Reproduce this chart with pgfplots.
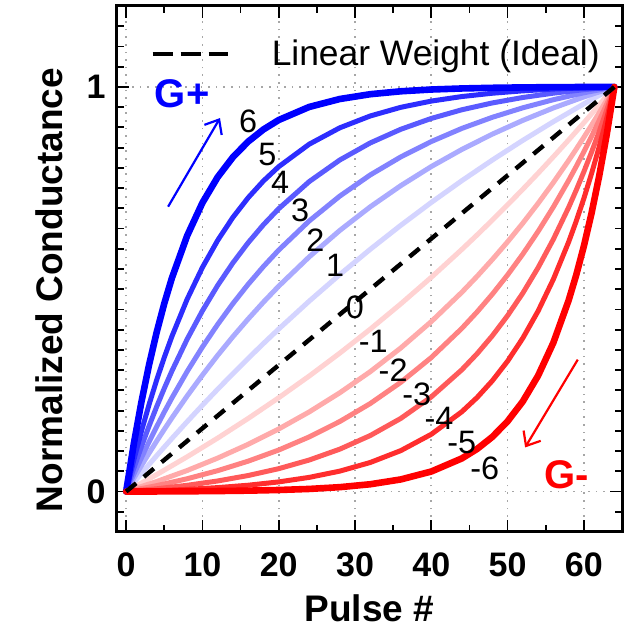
\documentclass[border=0pt]{standalone}
\usepackage{fontspec}
\setmainfont{Liberation Sans}
\usepackage{pgfplots}
\usepackage{pgfplotstable}
\pgfplotsset{compat=1.18}
\usetikzlibrary{arrows.meta}
\definecolor{b6}{RGB}{0,0,255}
\definecolor{b5}{RGB}{45,45,255}
\definecolor{b4}{RGB}{90,90,255}
\definecolor{b3}{RGB}{130,130,255}
\definecolor{b2}{RGB}{170,170,255}
\definecolor{b1}{RGB}{212,212,255}
\definecolor{r6}{RGB}{255,0,0}
\definecolor{r5}{RGB}{255,45,45}
\definecolor{r4}{RGB}{255,90,90}
\definecolor{r3}{RGB}{255,130,130}
\definecolor{r2}{RGB}{255,170,170}
\definecolor{r1}{RGB}{255,210,210}
\newcommand{\clab}{\fontsize{16.2}{18}\selectfont}
\pgfplotstableread{
x p1 p2 p3 p4 p5 p6
0 0 0 0 0 0 0
1 .0226 .0324 .0425 .0570 .0774 .1175
2 .0448 .0640 .0833 .1109 .1488 .2212
3 .0668 .0947 .1226 .1617 .2147 .3128
4 .0886 .1246 .1603 .2097 .2756 .3936
5 .1100 .1536 .1965 .2551 .3317 .4649
6 .1312 .1820 .2313 .2980 .3835 .5278
8 .1728 .2363 .2968 .3766 .4755 .6323
10 .2134 .2878 .3573 .4468 .5540 .7137
12 .2529 .3367 .4131 .5095 .6208 .7772
14 .2915 .3829 .4647 .5653 .6778 .8265
16 .3292 .4266 .5123 .6151 .7263 .8650
18 .3659 .4682 .5562 .6595 .7677 .8949
20 .4017 .5076 .5968 .6991 .8029 .9182
24 .4706 .5800 .6688 .7661 .8585 .9505
28 .5362 .6452 .7301 .8193 .8989 .9701
32 .5987 .7037 .7825 .8616 .9282 .9820
36 .6580 .7560 .8270 .8953 .9496 .9892
40 .7145 .8032 .8650 .9221 .9650 .9936
44 .7682 .8454 .8974 .9435 .9762 .9962
48 .8193 .8833 .9249 .9604 .9844 .9978
52 .8679 .9173 .9484 .9739 .9903 .9988
56 .9141 .9480 .9684 .9846 .9947 .9994
60 .9581 .9753 .9855 .9932 .9978 .9998
64 1 1 1 1 1 1
}\bluetab
\pgfplotstableread{
x n1 n2 n3 n4 n5 n6
0 0 0 0 0 0 0
4 .0419 .0247 .0145 .0068 .0022 .0002
8 .0859 .0520 .0316 .0154 .0053 .0006
12 .1321 .0827 .0516 .0261 .0097 .0012
16 .1807 .1167 .0751 .0396 .0156 .0022
20 .2318 .1546 .1026 .0565 .0238 .0038
24 .2855 .1968 .1350 .0779 .0350 .0064
28 .3420 .2440 .1730 .1047 .0504 .0108
32 .4013 .2963 .2175 .1384 .0718 .0180
36 .4638 .3548 .2699 .1807 .1011 .0299
40 .5294 .4200 .3312 .2339 .1415 .0495
44 .5983 .4924 .4032 .3009 .1971 .0818
46 .6341 .5318 .4438 .3405 .2323 .1051
48 .6708 .5734 .4877 .3849 .2737 .1350
50 .7085 .6171 .5353 .4347 .3222 .1735
52 .7471 .6633 .5869 .4905 .3792 .2228
54 .7866 .7122 .6427 .5532 .4460 .2863
56 .8272 .7637 .7032 .6234 .5245 .3677
58 .8688 .8180 .7687 .7020 .6165 .4722
59 .8900 .8464 .8035 .7449 .6683 .5351
60 .9114 .8754 .8397 .7903 .7244 .6064
61 .9332 .9053 .8774 .8383 .7853 .6872
62 .9552 .9360 .9167 .8891 .8512 .7788
63 .9774 .9676 .9575 .9430 .9226 .8825
64 1 1 1 1 1 1
}\redtab
\begin{document}
\begin{tikzpicture}
\begin{axis}[
  scale only axis, width=252.5pt, height=263pt,
  xmin=-1.2, xmax=65, ymin=-0.1, ymax=1.2,
  xtick={0,10,20,30,40,50,60}, ytick={0,1},
  minor xtick={5,15,25,35,45,55},
  minor ytick={-0.05,0.05,0.1,0.15,0.2,0.25,0.3,0.35,0.4,0.45,0.5,0.55,0.6,0.65,0.7,0.75,0.8,0.85,0.9,0.95,1.05,1.1,1.15},
  major tick length=6pt, minor tick length=3.5pt,
  tick style={line width=0.9pt, black},
  axis line style={line width=1.5pt},
  grid=major,
  grid style={dash pattern=on 0.8pt off 3pt, line width=0.8pt, gray!70},
  /pgf/number format/assume math mode=true,
  tick label style={font=\fontsize{17}{19}\selectfont\bfseries},
  xticklabel style={inner sep=0pt, yshift=-10pt},
  yticklabel style={inner sep=0pt, xshift=-5.5pt},
  xlabel={Pulse \#}, ylabel={Normalized Conductance},
  label style={font=\fontsize{18.5}{20}\selectfont\bfseries},
  xlabel style={at={(axis description cs:0.5,-0.118)}, anchor=north, inner sep=0pt},
  ylabel style={at={(axis description cs:-0.107,0.46)}, anchor=south, inner sep=0pt},
  legend style={at={(axis description cs:0.0653,0.909)}, anchor=west, draw=none, fill=none, inner sep=0pt, font=\fontsize{17.7}{20}\selectfont, nodes={inner sep=0pt}},
  legend image code/.code={\draw[#1, dash pattern=on 10pt off 4pt] (0pt,0pt) -- (37.5pt,0pt); \path (58.5pt,0pt);},
  every axis plot/.append style={line join=round, line cap=round},
]
\addplot[b1, line width=2.5pt, forget plot] table[x=x, y=p1]{\bluetab};
\addplot[b2, line width=2.5pt, forget plot] table[x=x, y=p2]{\bluetab};
\addplot[b3, line width=2.5pt, forget plot] table[x=x, y=p3]{\bluetab};
\addplot[b4, line width=2.5pt, forget plot] table[x=x, y=p4]{\bluetab};
\addplot[b5, line width=2.5pt, forget plot] table[x=x, y=p5]{\bluetab};
\addplot[b6, line width=3.3pt, forget plot] table[x=x, y=p6]{\bluetab};
\addplot[r1, line width=2.5pt, forget plot] table[x=x, y=n1]{\redtab};
\addplot[r2, line width=2.5pt, forget plot] table[x=x, y=n2]{\redtab};
\addplot[r3, line width=2.5pt, forget plot] table[x=x, y=n3]{\redtab};
\addplot[r4, line width=2.5pt, forget plot] table[x=x, y=n4]{\redtab};
\addplot[r5, line width=2.5pt, forget plot] table[x=x, y=n5]{\redtab};
\addplot[r6, line width=3.3pt, forget plot] table[x=x, y=n6]{\redtab};
\addplot[black, line width=2.2pt, line cap=butt, dash pattern=on 6.5pt off 5pt] coordinates {(0,0) (64,1)};
\addlegendentry{Linear Weight (Ideal)}
\node[font=\clab] at (axis cs:16.0,0.914) {6};
\node[font=\clab] at (axis cs:18.5,0.832) {5};
\node[font=\clab] at (axis cs:20.2,0.765) {4};
\node[font=\clab] at (axis cs:22.8,0.696) {3};
\node[font=\clab] at (axis cs:24.8,0.622) {2};
\node[font=\clab] at (axis cs:27.4,0.560) {1};
\node[font=\clab] at (axis cs:30.0,0.454) {0};
\node[font=\clab] at (axis cs:32.4,0.370) {-1};
\node[font=\clab] at (axis cs:35.0,0.300) {-2};
\node[font=\clab] at (axis cs:38.1,0.240) {-3};
\node[font=\clab] at (axis cs:41.0,0.180) {-4};
\node[font=\clab] at (axis cs:44.0,0.122) {-5};
\node[font=\clab] at (axis cs:47.0,0.058) {-6};
\node[text=b6, font=\fontsize{20}{22}\selectfont\bfseries] at (axis cs:7.34,0.983) {G+};
\node[text=r6, font=\fontsize{20}{22}\selectfont\bfseries] at (axis cs:57.8,0.042) {G-};
\draw[b6, line width=1.1pt, -{Straight Barb[length=6pt,width=10pt]}] (axis cs:5.5,0.704) -- (axis cs:12.3,0.923);
\draw[r6, line width=1.1pt, -{Straight Barb[length=6pt,width=10pt]}] (axis cs:59.2,0.326) -- (axis cs:52.3,0.109);
\end{axis}
\path (current axis.south west) ++(-58.5pt,-47.5pt) rectangle ++(314.5pt,313.5pt);
\end{tikzpicture}
\end{document}
